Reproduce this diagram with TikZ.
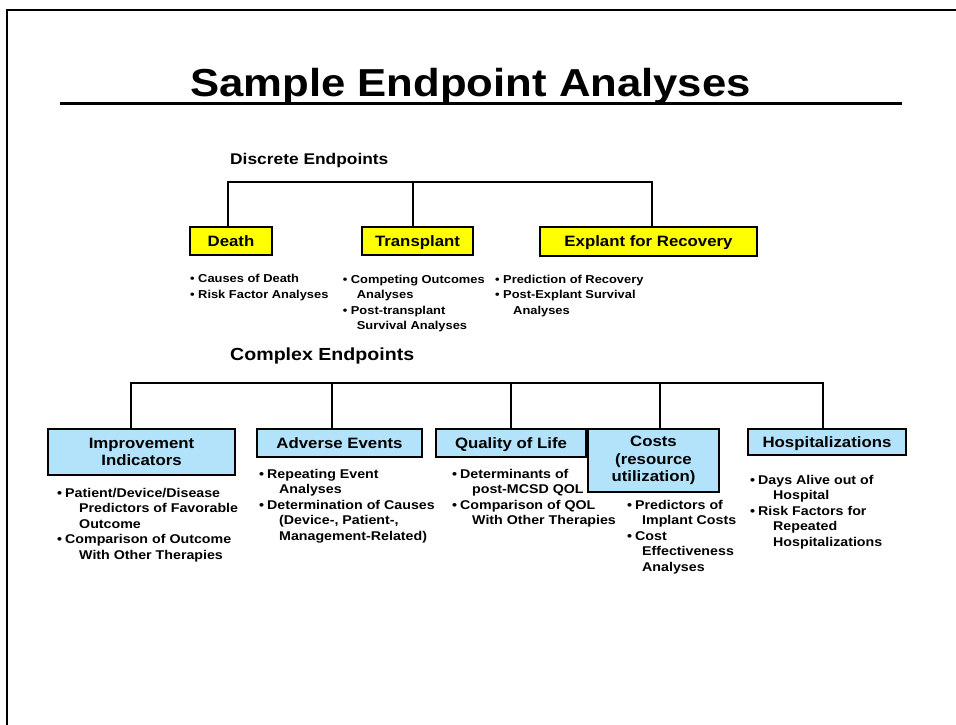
\documentclass[tikz,border=0pt]{standalone}
\usepackage{fontspec}
\setmainfont{Liberation Sans}[FakeStretch=1.12]
\definecolor{boxblue}{RGB}{179,227,250}
\definecolor{boxyellow}{RGB}{255,255,0}
\newcommand\bu{\makebox[8pt][l]{•}}
\newcommand\ct[1][18pt]{\hspace*{#1}}
\begin{document}
\begin{tikzpicture}[x=1pt,y=-1pt,
  boxbase/.style={draw=black, line width=2pt, inner sep=0pt, align=center,
    font=\fontsize{15}{17}\selectfont\bfseries},
  ybox/.style={boxbase, fill=boxyellow, text height=10.8pt, text depth=0pt},
  bbox/.style={boxbase, fill=boxblue},
  sline/.style={text height=10.8pt, text depth=0pt},
  conn/.style={line width=2pt},
  dlist/.style={anchor=base west, inner sep=0pt, font=\fontsize{11.5}{15.5}\selectfont\bfseries},
  clist/.style={anchor=base west, inner sep=0pt, font=\fontsize{12.7}{15.5}\selectfont\bfseries},
  head/.style={anchor=base west, inner sep=0pt}
]
\useasboundingbox (0,0) rectangle (956,725);
% frame
\coordinate (f1) at (956,10);
\coordinate (f2) at (7,10);
\coordinate (f3) at (7,726);
\draw[line width=2pt] (f1) -- (f2) -- (f3);

% title
\node[anchor=base, inner sep=0pt, font=\fontsize{39}{45}\selectfont\bfseries] (title) at (470.5,96.5) {Sample Endpoint Analyses};
\coordinate (u1) at (60,103.5);
\coordinate (u2) at (902,103.5);
\draw[line width=3pt] (u1) -- (u2);

% headings
\node[head, font=\fontsize{15.5}{18}\selectfont\bfseries] (disc) at (230,164) {Discrete Endpoints};
\node[head, font=\fontsize{17.5}{20}\selectfont\bfseries] (comp) at (230,360) {Complex Endpoints};

% discrete boxes
\node[ybox, minimum width=82pt, minimum height=28pt] (death) at (231,241) {Death};
\node[ybox, minimum width=111pt, minimum height=28pt] (trans) at (417.5,241) {Transplant};
\node[ybox, minimum width=217pt, minimum height=29pt] (expl) at (648.5,241.5) {Explant for Recovery};

\coordinate (dj1) at (228,182);
\coordinate (dj2) at (413,182);
\coordinate (dj3) at (652,182);
\draw[conn] (dj1 |- death.north) -- (dj1) -- (dj3) -- (dj3 |- expl.north);
\draw[conn] (dj2) -- (dj2 |- trans.north);

% discrete lists
\node[dlist] (l1) at (190,282.7) {\begin{tabular}[t]{@{}l@{}}\bu Causes of Death\\ \bu Risk Factor Analyses\end{tabular}};
\node[dlist] (l2) at (342.7,283) {\begin{tabular}[t]{@{}l@{}}\bu Competing Outcomes\\ \ct[14pt]Analyses\\ \bu Post-transplant\\ \ct[14pt]Survival Analyses\end{tabular}};
\node[dlist] (l3) at (495,283) {\begin{tabular}[t]{@{}l@{}}\bu Prediction of Recovery\\ \bu Post-Explant Survival\\ \ct[18pt]Analyses\end{tabular}};

% complex boxes
\node[bbox, minimum width=187pt, minimum height=46pt] (impr) at (141.5,452) {Improvement\\Indicators};
\node[bbox, sline, minimum width=165pt, minimum height=28pt] (adv) at (339.5,443) {Adverse Events};
\node[bbox, sline, minimum width=150pt, minimum height=28pt] (qol) at (511,443) {Quality of Life};
\node[bbox, minimum width=131pt, minimum height=63pt, font=\fontsize{15}{17.5}\selectfont\bfseries] (cost) at (653.5,460.5) {Costs\\(resource\\utilization)};
\node[bbox, sline, minimum width=158pt, minimum height=26pt] (hosp) at (827,442) {Hospitalizations};

\coordinate (cj1) at (131,383);
\coordinate (cj2) at (332,383);
\coordinate (cj3) at (511,383);
\coordinate (cj4) at (660,383);
\coordinate (cj5) at (823,383);
\draw[conn] (cj1 |- impr.north) -- (cj1) -- (cj5) -- (cj5 |- hosp.north);
\draw[conn] (cj2) -- (cj2 |- adv.north);
\draw[conn] (cj3) -- (cj3 |- qol.north);
\draw[conn] (cj4) -- (cj4 |- cost.north);

% complex lists
\node[clist] (m1) at (57,497) {\begin{tabular}[t]{@{}l@{}}\bu Patient/Device/Disease\\ \ct[22pt]Predictors of Favorable\\ \ct[22pt]Outcome\\ \bu Comparison of Outcome\\ \ct[22pt]With Other Therapies\end{tabular}};
\node[clist] (m2) at (259,478.3) {\begin{tabular}[t]{@{}l@{}}\bu Repeating Event\\ \ct[20pt]Analyses\\ \bu Determination of Causes\\ \ct[20pt](Device-, Patient-,\\ \ct[20pt]Management-Related)\end{tabular}};
\node[clist] (m3) at (452,478.3) {\begin{tabular}[t]{@{}l@{}}\bu Determinants of\\ \ct[20pt]post-MCSD QOL\\ \bu Comparison of QOL\\ \ct[20pt]With Other Therapies\end{tabular}};
\node[clist] (m4) at (627,509) {\begin{tabular}[t]{@{}l@{}}\bu Predictors of\\ \ct[15pt]Implant Costs\\ \bu Cost\\ \ct[15pt]Effectiveness\\ \ct[15pt]Analyses\end{tabular}};
\node[clist] (m5) at (750,484) {\begin{tabular}[t]{@{}l@{}}\bu Days Alive out of\\ \ct[23pt]Hospital\\ \bu Risk Factors for\\ \ct[23pt]Repeated\\ \ct[23pt]Hospitalizations\end{tabular}};
\end{tikzpicture}
\end{document}
